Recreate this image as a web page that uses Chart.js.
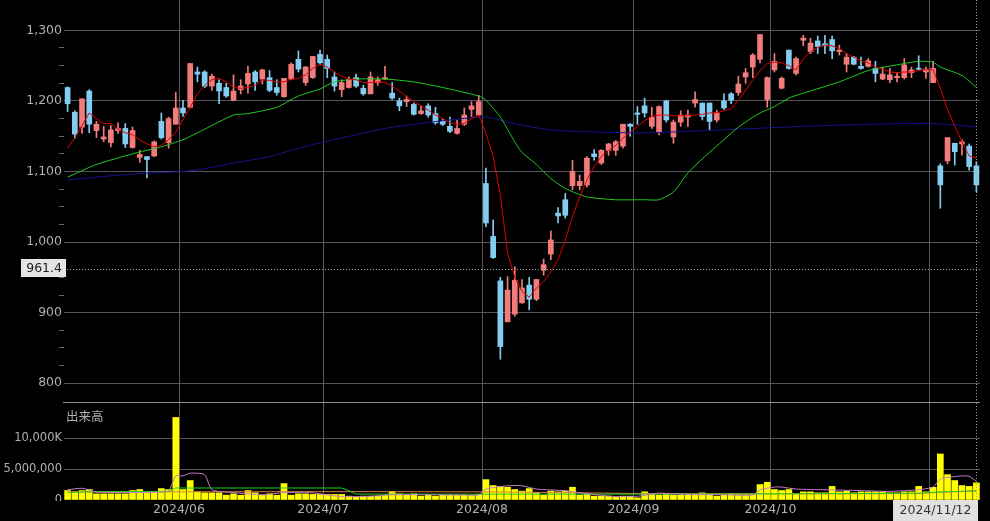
<!DOCTYPE html>
<html>
<head>
<meta charset="utf-8">
<script src="https://cdn.jsdelivr.net/npm/chart.js@4.4.1/dist/chart.umd.min.js"></script>
<style>
html, body { margin: 0; padding: 0; background: #000; }
#wrap { position: relative; width: 990px; height: 521px; background: #000; overflow: hidden; }
canvas { position: absolute; left: 0; }
#priceChart { top: 0; }
#volChart { top: 403px; }
</style>
</head>
<body>
<div id="wrap">
  <canvas id="priceChart" width="990" height="403"></canvas>
  <canvas id="volChart" width="990" height="118"></canvas>
</div>
<script>
// trading days shown
const dates = [
  '2024/05/10','2024/05/13','2024/05/14','2024/05/15','2024/05/16','2024/05/17','2024/05/20','2024/05/21','2024/05/22','2024/05/23',
  '2024/05/24','2024/05/27','2024/05/28','2024/05/29','2024/05/30','2024/05/31',
  '2024/06/03','2024/06/04','2024/06/05','2024/06/06','2024/06/07','2024/06/10','2024/06/11','2024/06/12','2024/06/13','2024/06/14',
  '2024/06/17','2024/06/18','2024/06/19','2024/06/20','2024/06/21','2024/06/24','2024/06/25','2024/06/26','2024/06/27','2024/06/28',
  '2024/07/01','2024/07/02','2024/07/03','2024/07/04','2024/07/05','2024/07/08','2024/07/09','2024/07/10','2024/07/11','2024/07/12',
  '2024/07/16','2024/07/17','2024/07/18','2024/07/19','2024/07/22','2024/07/23','2024/07/24','2024/07/25','2024/07/26','2024/07/29',
  '2024/07/30','2024/07/31',
  '2024/08/01','2024/08/02','2024/08/05','2024/08/06','2024/08/07','2024/08/08','2024/08/09','2024/08/13','2024/08/14','2024/08/15',
  '2024/08/16','2024/08/19','2024/08/20','2024/08/21','2024/08/22','2024/08/23','2024/08/26','2024/08/27','2024/08/28','2024/08/29',
  '2024/08/30',
  '2024/09/02','2024/09/03','2024/09/04','2024/09/05','2024/09/06','2024/09/09','2024/09/10','2024/09/11','2024/09/12','2024/09/13',
  '2024/09/17','2024/09/18','2024/09/19','2024/09/20','2024/09/24','2024/09/25','2024/09/26','2024/09/27','2024/09/30',
  '2024/10/01','2024/10/02','2024/10/03','2024/10/04','2024/10/07','2024/10/08','2024/10/09','2024/10/10','2024/10/11','2024/10/15',
  '2024/10/16','2024/10/17','2024/10/18','2024/10/21','2024/10/22','2024/10/23','2024/10/24','2024/10/25','2024/10/28','2024/10/29',
  '2024/10/30','2024/10/31',
  '2024/11/01','2024/11/05','2024/11/06','2024/11/07','2024/11/08','2024/11/11','2024/11/12'
];
const monthTicks = ['2024/06', '2024/07', '2024/08', '2024/09', '2024/10'];

const opens = [
  1219,1184,1163,1214,1158,1146,1141,1158,1161,1134,
  1120,1121,1122,1171,1141,1167,1190,1191,1241,1241,
  1221,1225,1219,1201,1216,1224,1241,1231,1233,1219,
  1206,1231,1259,1226,1233,1266,1259,1234,1216,1219,
  1233,1218,1210,1226,1231,1211,1200,1199,1195,1182,
  1193,1182,1171,1164,1154,1167,1188,1180,1083,1008,
  945,887,898,914,939,919,960,983,1041,1060,
  1080,1080,1081,1125,1112,1130,1130,1136,1167,1183,
  1193,1164,1156,1200,1149,1170,1177,1197,1197,1197,
  1173,1200,1210,1212,1234,1248,1259,1202,1244,1218,
  1272,1239,1286,1270,1285,1281,1287,1270,1252,1262,
  1249,1249,1246,1231,1230,1233,1233,1240,1246,1241,
  1226,1108,1115,1140,1139,1136,1108
];
const highs = [
  1220,1186,1203,1216,1171,1164,1165,1169,1168,1163,
  1130,1121,1143,1183,1177,1212,1201,1253,1248,1243,
  1238,1230,1225,1237,1230,1249,1243,1245,1243,1230,
  1232,1254,1271,1249,1263,1272,1265,1241,1230,1234,
  1238,1222,1241,1234,1249,1226,1204,1207,1197,1193,
  1196,1191,1174,1177,1173,1190,1199,1208,1105,1031,
  950,951,965,947,950,947,976,1016,1049,1069,
  1116,1095,1121,1131,1131,1140,1144,1167,1168,1192,
  1204,1191,1193,1201,1173,1186,1187,1213,1197,1197,
  1187,1210,1212,1235,1246,1267,1294,1234,1267,1234,
  1272,1262,1293,1289,1292,1293,1292,1279,1267,1263,
  1262,1260,1256,1248,1246,1240,1260,1248,1264,1248,
  1256,1111,1148,1140,1145,1139,1114
];
const lows = [
  1185,1147,1154,1155,1148,1142,1135,1154,1134,1133,
  1113,1091,1121,1146,1133,1167,1178,1190,1227,1219,
  1215,1196,1205,1200,1210,1211,1215,1224,1213,1208,
  1205,1230,1241,1222,1232,1251,1233,1214,1206,1218,
  1219,1208,1210,1222,1230,1202,1186,1192,1180,1181,
  1177,1167,1165,1155,1153,1165,1178,1179,1022,977,
  834,887,895,913,904,917,953,975,1027,1034,
  1074,1074,1078,1116,1110,1123,1123,1133,1150,1167,
  1177,1161,1152,1170,1140,1164,1164,1191,1173,1159,
  1170,1188,1196,1208,1225,1233,1254,1191,1241,1217,
  1245,1237,1278,1267,1267,1267,1260,1265,1241,1251,
  1245,1248,1227,1230,1226,1227,1231,1233,1244,1232,
  1226,1048,1111,1109,1123,1102,1071
];
const closes = [
  1196,1153,1203,1167,1167,1149,1159,1161,1139,1158,
  1124,1117,1142,1148,1175,1190,1183,1253,1238,1221,
  1235,1214,1207,1214,1221,1239,1227,1244,1215,1212,
  1232,1252,1245,1248,1263,1254,1246,1221,1226,1230,
  1221,1210,1234,1230,1233,1204,1193,1202,1181,1186,
  1180,1169,1167,1157,1161,1180,1193,1199,1027,978,
  852,932,946,935,919,947,968,1003,1037,1038,
  1100,1086,1119,1121,1130,1139,1142,1167,1164,1181,
  1183,1177,1192,1173,1170,1180,1180,1202,1178,1171,
  1183,1190,1201,1224,1240,1265,1294,1233,1256,1232,
  1246,1260,1289,1282,1277,1278,1271,1272,1262,1252,
  1246,1257,1239,1238,1237,1235,1251,1244,1245,1245,
  1246,1081,1148,1128,1142,1107,1081
];

// moving averages
const ma5 = [
  1133,1148,1165,1183,1175,1168,1168,1160,1155,1152,
  1145,1139,1135,1137,1145,1156,1173,1191,1210,1222,
  1230,1232,1227,1219,1218,1219,1222,1230,1229,1227,
  1227,1231,1232,1237,1246,1252,1248,1241,1235,1231,
  1230,1226,1226,1227,1226,1221,1214,1206,1199,1193,
  1187,1180,1175,1169,1167,1168,1175,1180,1154,1121,
  1066,985,950,930,922,935,944,958,975,1003,
  1036,1064,1088,1107,1121,1130,1137,1147,1156,1164,
  1172,1178,1180,1180,1179,1179,1179,1180,1181,1183,
  1183,1186,1189,1201,1215,1230,1243,1253,1255,1254,
  1250,1244,1260,1270,1276,1279,1278,1274,1267,1262,
  1257,1254,1248,1245,1241,1240,1241,1241,1243,1244,
  1244,1218,1188,1164,1142,1122,1119
];
const ma25Points = [
  [0,1092],[4,1110],[9,1125],[13,1135],[16,1145],[19,1160],[23,1180],[25,1182],[29,1191],[32,1207],
  [35,1217],[37,1227],[40,1231],[44,1231],[48,1227],[52,1219],[57,1207],[58,1201],[60,1177],[62,1142],
  [63,1127],[65,1110],[67,1090],[69,1076],[72,1064],[76,1060],[80,1060],[82,1060],[84,1071],[86,1098],
  [88,1118],[91,1145],[93,1163],[96,1183],[98,1192],[100,1204],[102,1211],[107,1227],[111,1243],[116,1253],
  [118,1256],[120,1255],[121,1248],[124,1236],[126,1219]
];
const ma75Points = [
  [0,1088],[5,1093],[10,1097],[16,1100],[19,1104],[23,1112],[28,1121],[32,1133],[36,1143],[40,1152],
  [44,1161],[49,1168],[53,1173],[58,1177],[61,1170],[67,1159],[77,1155],[81,1155],[93,1160],[102,1164],
  [112,1167],[120,1168],[126,1163]
];
const markerPrice = 961.4;

const volumes = [
  1530000,1320000,1530000,1690000,1000000,1000000,1000000,1000000,1000000,1530000,
  1690000,1320000,1320000,1850000,1690000,13360000,1690000,3150000,1320000,1160000,
  1160000,1160000,780000,1000000,780000,1530000,1160000,780000,1000000,780000,
  2660000,780000,1000000,1000000,900000,900000,900000,900000,900000,620000,
  460000,620000,620000,620000,780000,1400000,1000000,780000,1000000,620000,
  780000,620000,780000,780000,780000,780000,780000,900000,3300000,2340000,
  2200000,2060000,1690000,1430000,1850000,1160000,780000,1430000,1320000,1430000,
  2060000,780000,1000000,620000,620000,620000,460000,620000,620000,350000,
  1320000,1000000,780000,900000,780000,780000,900000,900000,1160000,900000,
  620000,780000,1000000,900000,900000,900000,2500000,2870000,1690000,1530000,
  1690000,1000000,1320000,1320000,1160000,1160000,2200000,1320000,1430000,1160000,
  1320000,1320000,1320000,1320000,1160000,1160000,1320000,1320000,2200000,1320000,
  2060000,7450000,4100000,3150000,2340000,2200000,2770000
];
const volMa5Points = [
  [0,1660000],[2,1900000],[4,1300000],[8,1200000],[12,1250000],[14,1500000],[15,3900000],[16,3900000],
  [17,4350000],[19,4100000],[20,1660000],[23,1200000],[27,850000],[30,1200000],[33,1250000],[35,1000000],
  [38,550000],[42,600000],[45,850000],[50,850000],[55,800000],[57,800000],[58,1770000],[61,2300000],
  [63,2300000],[65,1770000],[69,1500000],[72,1000000],[76,550000],[79,600000],[82,1100000],[86,900000],
  [91,850000],[95,800000],[96,1660000],[98,2100000],[99,2100000],[101,1770000],[105,1660000],[109,1550000],
  [114,1400000],[118,1660000],[120,2100000],[121,3400000],[122,3650000],[124,3900000],[125,3850000],[126,3000000]
];
const volMa25Points = [
  [0,1200000],[3,1350000],[14,1400000],[15,1940000],[38,1940000],[39,1500000],[40,950000],[60,950000],
  [80,950000],[100,1000000],[118,1100000],[121,1300000],[126,1500000]
];
const volMa75Points = [
  [0,1300000],[40,1350000],[60,1300000],[80,1050000],[100,1000000],[118,1050000],[121,1250000],[126,1450000]
];
const volTickValues = [0, 5000000, 10000000];
const volTickText = ['0', '5,000,000', '10,000K'];

const GRID = '#55555e';
const TXT = '#b0b0b0';
const UP = '#f27c7c';
const DOWN = '#84cdf2';
const NONE = 'rgba(0,0,0,0)';

Chart.defaults.font.family = '"DejaVu Sans", Verdana, sans-serif';
Chart.defaults.font.size = 12.5;
Chart.defaults.color = TXT;

const monthStart = new Set();
dates.forEach((d, i) => {
  if (i > 0 && d.slice(0, 7) !== dates[i - 1].slice(0, 7)) monthStart.add(i);
});

function fromPoints(points) {
  const arr = new Array(dates.length).fill(null);
  points.forEach(p => { arr[p[0]] = p[1]; });
  return arr;
}

// left axis: fixed width, no extra padding for the edge labels
function fitLeft(s) {
  s.width = 64;
  s.paddingTop = 0;
  s.paddingBottom = 0;
}

function xAxis(showLabels) {
  return {
    type: 'category',
    offset: true,
    grid: {
      offset: true,
      drawTicks: false,
      color: c => monthStart.has(c.index) ? GRID : NONE
    },
    border: { display: false },
    ticks: showLabels ? {
      autoSkip: false,
      maxRotation: 0,
      minRotation: 0,
      padding: 2,
      labelOffset: -4,
      color: TXT,
      callback: (v, i) => {
        const m = dates[i].slice(0, 7);
        return monthStart.has(i) && monthTicks.includes(m) ? m : '';
      }
    } : { display: false },
    afterFit: s => {
      s.height = showLabels ? 21 : 0;
      s.paddingLeft = 0;
      s.paddingRight = 0;
    }
  };
}

const wickData = dates.map((d, i) => [lows[i], highs[i]]);
const bodyData = dates.map((d, i) => [Math.min(opens[i], closes[i]), Math.max(opens[i], closes[i])]);
const candleColors = dates.map((d, i) => closes[i] >= opens[i] ? UP : DOWN);

function lastX(chart) {
  return Math.round(chart.scales.x.getPixelForValue(dates.length - 1)) + 0.5;
}

const priceExtras = {
  id: 'priceExtras',
  afterDatasetsDraw(chart) {
    const { ctx, chartArea: a, scales: { y } } = chart;
    const py = Math.round(y.getPixelForValue(markerPrice)) + 0.5;
    const lx = lastX(chart);
    ctx.save();
    ctx.strokeStyle = '#a0a0a0';
    ctx.lineWidth = 1;
    ctx.setLineDash([1, 2]);
    ctx.beginPath();
    ctx.moveTo(a.left, py);
    ctx.lineTo(a.right, py);
    ctx.moveTo(lx, a.top);
    ctx.lineTo(lx, a.bottom);
    ctx.stroke();
    ctx.setLineDash([]);
    ctx.strokeStyle = '#8c8c8c';
    ctx.beginPath();
    ctx.moveTo(a.left - 1, a.bottom - 0.5);
    ctx.lineTo(a.right, a.bottom - 0.5);
    ctx.stroke();
    ctx.fillStyle = '#e6e6e6';
    ctx.fillRect(21, py - 10.5, 45, 18);
    ctx.fillStyle = '#222';
    ctx.font = '12.5px "DejaVu Sans"';
    ctx.textAlign = 'right';
    ctx.textBaseline = 'middle';
    ctx.fillText(markerPrice.toFixed(1), 62, py - 1);
    ctx.restore();
  }
};

const volExtras = {
  id: 'volExtras',
  afterDraw(chart) {
    const { ctx, chartArea: a } = chart;
    const lx = lastX(chart);
    ctx.save();
    ctx.fillStyle = '#000';
    ctx.fillRect(0, a.bottom + 1, a.left, chart.height - a.bottom);
    ctx.strokeStyle = '#a0a0a0';
    ctx.lineWidth = 1;
    ctx.setLineDash([1, 2]);
    ctx.beginPath();
    ctx.moveTo(lx, a.top);
    ctx.lineTo(lx, a.bottom);
    ctx.stroke();
    ctx.setLineDash([]);
    ctx.fillStyle = TXT;
    ctx.font = '12.5px "Noto Sans CJK JP"';
    ctx.textAlign = 'left';
    ctx.textBaseline = 'middle';
    ctx.fillText('出来高', a.left + 2, 13);
    const bx2 = lx + 1.5;
    const bx1 = bx2 - 85;
    ctx.fillStyle = '#e0e0e0';
    ctx.fillRect(bx1, a.bottom, 85, chart.height - a.bottom);
    ctx.fillStyle = '#333';
    ctx.font = '12.5px "DejaVu Sans"';
    ctx.textAlign = 'center';
    ctx.fillText(dates[dates.length - 1], (bx1 + bx2) / 2, a.bottom + 11);
    ctx.restore();
  }
};

function lineSet(data, color, tension) {
  return {
    type: 'line', data: data, borderColor: color, borderWidth: 1,
    pointRadius: 0, spanGaps: true, tension: tension, order: 0
  };
}

new Chart(document.getElementById('priceChart'), {
  type: 'bar',
  data: {
    labels: dates,
    datasets: [
      lineSet(ma5, '#e00000', 0),
      lineSet(fromPoints(ma25Points), '#22cc22', 0.2),
      lineSet(fromPoints(ma75Points), '#14148a', 0.3),
      { type: 'bar', data: bodyData, backgroundColor: candleColors, barThickness: 5,
        grouped: false, minBarLength: 1, borderWidth: 0, order: 2 },
      { type: 'bar', data: wickData, backgroundColor: candleColors, barThickness: 1,
        grouped: false, minBarLength: 1, borderWidth: 0, order: 3 }
    ]
  },
  options: {
    responsive: false,
    animation: false,
    events: [],
    layout: { padding: { left: 0, right: 10, top: 0, bottom: 0 } },
    plugins: { legend: { display: false }, tooltip: { enabled: false } },
    scales: {
      x: xAxis(false),
      y: {
        position: 'left',
        min: 772,
        max: 1343,
        afterFit: fitLeft,
        border: { display: false },
        grid: {
          drawTicks: true,
          tickLength: 5,
          color: c => c.tick && c.tick.value % 100 === 0 ? GRID : NONE,
          tickColor: c => c.tick && c.tick.value % 25 === 0 && c.tick.value % 100 !== 0 ? '#666' : NONE
        },
        ticks: {
          stepSize: 25,
          autoSkip: false,
          padding: -3,
          color: TXT,
          callback: v => v % 100 === 0 ? v.toLocaleString('en-US') : ''
        }
      }
    }
  },
  plugins: [priceExtras]
});

new Chart(document.getElementById('volChart'), {
  type: 'bar',
  data: {
    labels: dates,
    datasets: [
      lineSet(fromPoints(volMa5Points), '#c87cc8', 0.2),
      lineSet(fromPoints(volMa25Points), '#22cc22', 0),
      lineSet(fromPoints(volMa75Points), '#d88040', 0.2),
      { type: 'bar', data: volumes, backgroundColor: '#ffff00', barThickness: 6,
        borderWidth: 0, order: 2 }
    ]
  },
  options: {
    responsive: false,
    animation: false,
    events: [],
    layout: { padding: { left: 0, right: 10, top: 0, bottom: 0 } },
    plugins: { legend: { display: false }, tooltip: { enabled: false } },
    scales: {
      x: xAxis(true),
      y: {
        position: 'left',
        min: 0,
        max: 15700000,
        afterFit: fitLeft,
        afterBuildTicks: s => { s.ticks = volTickValues.map(v => ({ value: v })); },
        border: { display: false },
        grid: {
          drawTicks: false,
          color: c => c.tick && c.tick.value > 0 ? GRID : NONE
        },
        ticks: {
          autoSkip: false,
          padding: 2,
          color: TXT,
          font: { size: 11.5 },
          callback: v => {
            const k = volTickValues.indexOf(v);
            return k >= 0 ? volTickText[k] : '';
          }
        }
      }
    }
  },
  plugins: [volExtras]
});
</script>
</body>
</html>
